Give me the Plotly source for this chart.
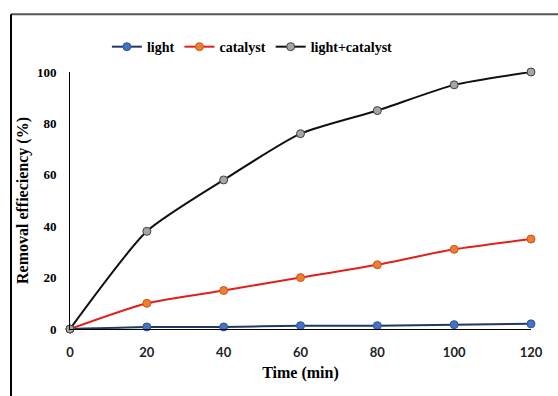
import plotly.graph_objects as go

time = [0, 20, 40, 60, 80, 100, 120]
light = [0, 0.8, 0.8, 1.3, 1.3, 1.7, 2.0]
catalyst = [0, 10, 15, 20, 25, 31, 35]
light_catalyst = [0, 38, 58, 76, 85, 95, 100]

series = [
    ("light", light, "#1F3864", "#4472C4", "#2F5597"),
    ("catalyst", catalyst, "#E0201B", "#ED7D31", "#C55A11"),
    ("light+catalyst", light_catalyst, "#111111", "#A5A5A5", "#404040"),
]

fig = go.Figure()
for name, vals, lc, mc, ml in series:
    fig.add_trace(go.Scatter(
        x=time, y=vals, name=name, mode="lines+markers",
        line=dict(color=lc, width=2, shape="spline", smoothing=0.6),
        marker=dict(color=mc, size=8, line=dict(color=ml, width=1)),
        cliponaxis=False,
    ))

serif = "Liberation Serif, Times New Roman, serif"
fig.update_layout(
    width=558, height=396,
    margin=dict(l=70, r=27, t=72, b=67),
    paper_bgcolor="white", plot_bgcolor="white",
    showlegend=True,
    legend=dict(orientation="h", x=0.08, y=1.097, xanchor="left", yanchor="middle",
                font=dict(family=serif, size=14, color="black", weight="bold"),
                itemwidth=30, tracegroupgap=0, bgcolor="rgba(0,0,0,0)"),
    xaxis=dict(range=[0, 120], tickvals=time, showgrid=False, zeroline=False,
               showline=True, linecolor="black", linewidth=1, ticks="",
               ticklabelstandoff=11,
               tickfont=dict(family="Lato, sans-serif", size=13, color="#222", weight="bold"),
               title=dict(text="Time (min)", font=dict(family=serif, size=16, color="black", weight="bold"), standoff=8)),
    yaxis=dict(range=[0, 100], tickvals=[0, 20, 40, 60, 80, 100], showgrid=False, zeroline=False,
               showline=True, linecolor="black", linewidth=1, ticks="",
               ticklabelstandoff=10,
               tickfont=dict(family=serif, size=13, color="black", weight="bold"),
               title=dict(text="Removal effieciency (%)", font=dict(family=serif, size=16, color="black", weight="bold"), standoff=4)),
    shapes=[
        dict(type="line", xref="paper", yref="paper", x0=-0.128, x1=1.06, y0=1.225, y1=1.225,
             line=dict(color="#555", width=2)),
        dict(type="line", xref="paper", yref="paper", x0=-0.128, x1=-0.128, y0=1.225, y1=-0.3,
             line=dict(color="black", width=2)),
    ],
)

fig.write_html("out.html")
